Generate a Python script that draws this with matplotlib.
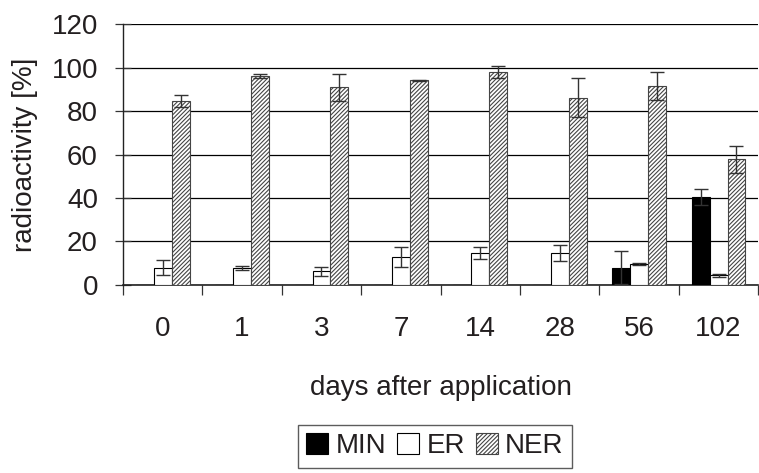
import matplotlib
matplotlib.use("Agg")
import matplotlib.pyplot as plt
import numpy as np

plt.rcParams['font.family'] = ['Liberation Sans', 'DejaVu Sans']
plt.rcParams['hatch.linewidth'] = 0.8

days = ["0", "1", "3", "7", "14", "28", "56", "102"]
min_vals = [0, 0, 0, 0, 0, 0, 8.0, 40.3]
min_err = [0, 0, 0, 0, 0, 0, 7.5, 3.7]
er_vals = [8.0, 8.0, 6.3, 12.7, 14.6, 14.6, 9.7, 4.4]
er_err = [3.3, 0.9, 2.0, 4.6, 2.7, 3.6, 0.6, 0.5]
ner_vals = [84.5, 96.1, 90.9, 94.1, 98.1, 86.1, 91.6, 57.8]
ner_err = [2.8, 1.1, 6.3, 0.3, 2.7, 9.0, 6.4, 6.3]

txt = '#231f20'
fs = 20
fig = plt.figure(figsize=(7.59, 4.73), dpi=100)
ax = fig.add_axes([0.162, 0.3975, 0.837, 0.5517])

x = np.arange(len(days))
w = 0.226
err_kw = dict(ecolor='#333333', elinewidth=1.0, capsize=5, capthick=1.0)

b1 = ax.bar(x - w, min_vals, w, color='black', edgecolor='black', linewidth=0.8,
            label='MIN', zorder=3)
b2 = ax.bar(x, er_vals, w, color='white', edgecolor='black', linewidth=0.8,
            label='ER', zorder=3)
b3 = ax.bar(x + w, ner_vals, w, color='white', edgecolor='#444444', linewidth=0.8,
            hatch='////////', label='NER', zorder=3)

for xs, vals, errs in [(x - w, min_vals, min_err), (x, er_vals, er_err), (x + w, ner_vals, ner_err)]:
    xs = np.asarray(xs)
    vals = np.asarray(vals)
    errs = np.asarray(errs)
    m = vals > 0
    ax.errorbar(xs[m], vals[m], yerr=errs[m], fmt='none', zorder=4, **err_kw)

ax.set_xlim(-0.5, len(days) - 0.5)
ax.set_ylim(0, 120)
ax.set_yticks(np.arange(0, 121, 20))
ax.yaxis.grid(True, color='black', linewidth=0.9, zorder=0)
ax.set_axisbelow(True)

ax.set_xticks(x)
ax.set_xticklabels(days)
ax.set_xticks(np.arange(-0.5, len(days) - 0.4, 1.0), minor=True)
ax.tick_params(axis='x', which='major', length=0, pad=22, labelsize=fs, labelcolor=txt)
ax.tick_params(axis='x', which='minor', direction='out', length=7, width=0.9, color='#333333')
ax.tick_params(axis='y', direction='inout', length=12, width=0.9, pad=12,
               labelsize=fs, labelcolor=txt, color='#333333')

for s in ['top', 'right']:
    ax.spines[s].set_visible(False)
ax.spines['left'].set_linewidth(1.0)
ax.spines['bottom'].set_linewidth(1.2)
ax.spines['left'].set_color('#222222')
ax.spines['bottom'].set_color('#222222')

ax.set_ylabel('radioactivity [%]', fontsize=fs, color=txt, labelpad=10)
ax.set_xlabel('days after application', fontsize=fs, color=txt, labelpad=24)

leg = fig.legend(handles=[b1, b2, b3], labels=['MIN', 'ER', 'NER'], ncol=3,
                 loc='lower center', bbox_to_anchor=(0.573, -0.018), fontsize=fs,
                 frameon=True, fancybox=False, edgecolor='#333333',
                 handlelength=0.8, handleheight=0.8, handletextpad=0.25,
                 columnspacing=0.4, borderpad=0.3, labelcolor=txt)
leg.get_frame().set_linewidth(1.0)

fig.savefig('out.png', dpi=100)
